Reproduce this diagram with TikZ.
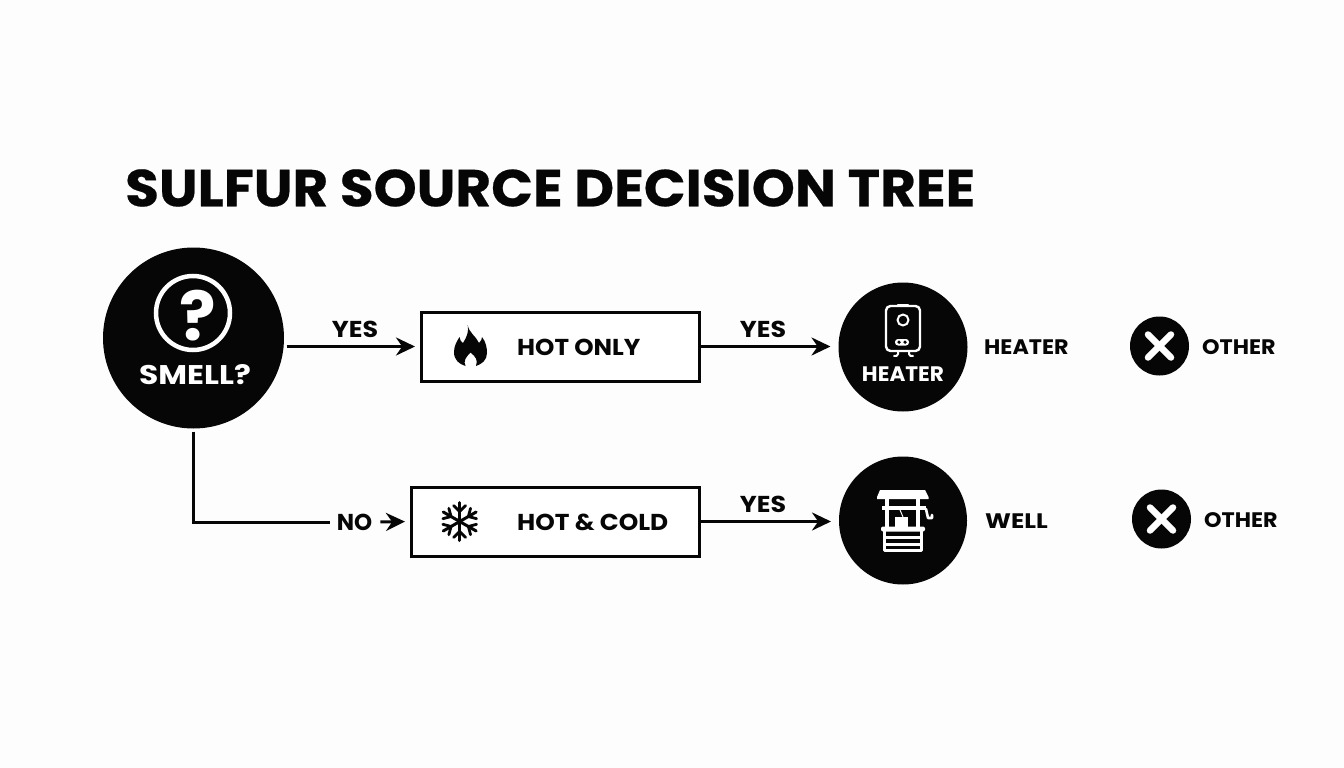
\documentclass[tikz,border=0pt]{standalone}
\usepackage{fontspec}
\setmainfont{Poppins}
\usetikzlibrary{arrows.meta}
\usetikzlibrary{calc}
\definecolor{paper}{HTML}{FDFDFD}
\definecolor{ink}{HTML}{060606}
\newcommand{\lblfont}[2]{\fontsize{#1}{#1}\selectfont\bfseries\addfontfeature{FakeStretch=#2}}
\tikzset{
    conn/.style={draw=ink,line width=3pt,-{Stealth[length=19pt,width=18pt]}},
    bigdot/.style={circle,fill=ink,inner sep=0pt,outer sep=0pt},
    optionbox/.style={draw=ink,line width=3pt,fill=white,inner sep=0pt,outer sep=0pt},
    lbl/.style={text=ink,inner sep=0pt,font=\lblfont{22}{1.05}},
    whitelbl/.style={lbl,text=white},
    iconline/.style={draw=white,line width=2.4pt,line cap=round,line join=round}
}
\begin{document}
\begin{tikzpicture}[x=1pt,y=-1pt]
    \useasboundingbox (0,0) rectangle (1344,768);
    \fill[paper] (0,0) rectangle (1344,768);

    \node[text=ink,inner sep=0pt,anchor=west,font=\fontsize{52}{52}\selectfont\bfseries\addfontfeature{FakeStretch=1.055,FakeBold=0.4}] (title) at (125,188) {SULFUR SOURCE DECISION TREE};

    \node[bigdot,minimum size=181pt] (smell) at (193.5,338) {};
    \node[circle,draw=white,line width=4.5pt,inner sep=0pt,minimum size=74pt] (ring) at (193,313) {};
    \node[text=white,inner sep=0pt,font=\fontsize{68}{68}\selectfont\bfseries] (mark) at (198,316) {?};
    \node[whitelbl,anchor=west,font=\lblfont{27}{1.16}] (smelltext) at (139,375) {SMELL?};

    \node[optionbox,minimum width=278pt,minimum height=69pt] (hot) at (560,346.5) {};
    \node[optionbox,minimum width=288pt,minimum height=69pt] (cold) at (555,521.5) {};
    \node[lbl,anchor=west,font=\lblfont{23}{1.07}] (hottext) at (517,347) {HOT ONLY};
    \node[lbl,anchor=west,font=\lblfont{23}{1.08}] (coldtext) at (517,522) {HOT \& COLD};

    \node[bigdot,minimum size=129pt] (heater) at (903,347) {};
    \node[bigdot,minimum size=128pt] (well) at (903,520.5) {};
    \node[whitelbl,font=\lblfont{21}{1.03}] (heatertext) at (903,374) {HEATER};

    \foreach \n/\t/\x/\y in {yestop/YES/355/329,yeshot/YES/763/329,yescold/YES/763/504} {
        \node[lbl,font=\lblfont{23}{1.1}] (\n) at (\x,\y) {\t};
    }
    \node[lbl,inner xsep=7pt,font=\lblfont{23}{1.0}] (nolabel) at (354.5,522) {NO};

    \draw[conn,shorten <=3pt,shorten >=6pt] (hot.west -| smell.-5) -- (hot.west);
    \draw[draw=ink,line width=3pt,shorten <=3pt] (smell.south) |- (nolabel.west);
    \draw[conn,shorten <=1pt,shorten >=6pt] (nolabel.east) -- (cold.west);
    \foreach \a/\b in {hot/heater,cold/well} {
        \draw[conn,shorten >=8pt] (\a.east) -- (\a.east -| \b.west);
    }

    \foreach \n/\t/\x/\y/\s in {endheater/HEATER/984/347/1.06,endwell/WELL/985/521/1.17,otherone/OTHER/1202/347/1.06,othertwo/OTHER/1204/520/1.06} {
        \node[lbl,anchor=west,font=\lblfont{21}{\s}] (\n) at (\x,\y) {\t};
    }
    \foreach \n/\x/\y in {crossone/1159.5/346,crosstwo/1161.5/519} {
        \node[bigdot,minimum size=59pt] (\n) at (\x,\y) {};
        \draw[white,line width=6.5pt,line cap=round] ($(\n)+(-11.5,-11.5)$) -- ($(\n)+(11.5,11.5)$);
        \draw[white,line width=6.5pt,line cap=round] ($(\n)+(-11.5,11.5)$) -- ($(\n)+(11.5,-11.5)$);
    }

    % flame
    \fill[ink] (467.7,325) .. controls (469,333) and (476,336) .. (479,343)
        .. controls (481,341) and (482,339) .. (482,337)
        .. controls (486,342) and (487,348) .. (487,353)
        .. controls (487,360) and (482,364) .. (476,366)
        .. controls (478,360) and (476,357) .. (470.5,352.5)
        .. controls (466,357) and (463,361) .. (465.5,366)
        .. controls (459,364) and (454,360) .. (454,352)
        .. controls (454,346) and (457,341) .. (459.5,337)
        .. controls (460,340) and (461,342) .. (463,343)
        .. controls (467,337) and (469,331) .. (467.7,325) -- cycle;

    % snowflake
    \foreach \a in {30,90,150,210,270,330} {
        \begin{scope}[shift={(459.7,521.5)},rotate=\a]
            \draw[ink,line width=3pt,line cap=round] (0,0) -- (19,0);
            \draw[ink,line width=2.8pt,line cap=round,line join=round] (16,-6) -- (10,0) -- (16,6);
        \end{scope}
    }

    % heater
    \draw[iconline,rounded corners=4.5pt] (886,306) rectangle (920,351);
    \draw[iconline] (898,305) -- (908,305);
    \draw[iconline,line width=2pt] (903,320) circle (5.5);
    \fill[white,rounded corners=3pt] (895,339) rectangle (909,345.5);
    \fill[ink] (899,342.2) circle (1.8);
    \fill[ink] (905,342.2) circle (1.8);
    \draw[iconline,line width=2pt] (898,351) -- (898,354) .. controls (898,356) and (896,356) .. (894,356);
    \draw[iconline,line width=2pt] (909,351) -- (909,354) .. controls (909,356) and (911,356) .. (913,356);

    % well
    \fill[white] (880,490) -- (925,490) -- (928.5,497) -- (928.5,499) -- (877,499) -- (877,497) -- cycle;
    \foreach \x in {887,918} {
        \draw[white,line width=4pt] (\x,499) -- (\x,527);
    }
    \draw[white,line width=3.5pt] (882,508) -- (926,508);
    \draw[iconline,line width=2.6pt] (926,509) -- (928,518) -- (932,518) -- (932,515);
    \draw[white,line width=1pt] (900,510) -- (903,517);
    \fill[white] (895,517) rectangle (908,527);
    \fill[white,rounded corners=2pt] (881,526.5) rectangle (925,531.5);
    \draw[iconline,line width=3pt] (884,531) -- (884,550) -- (921,550) -- (921,531);
    \foreach \y in {537.5,544} {
        \draw[white,line width=3pt] (884,\y) -- (921,\y);
    }
\end{tikzpicture}
\end{document}
